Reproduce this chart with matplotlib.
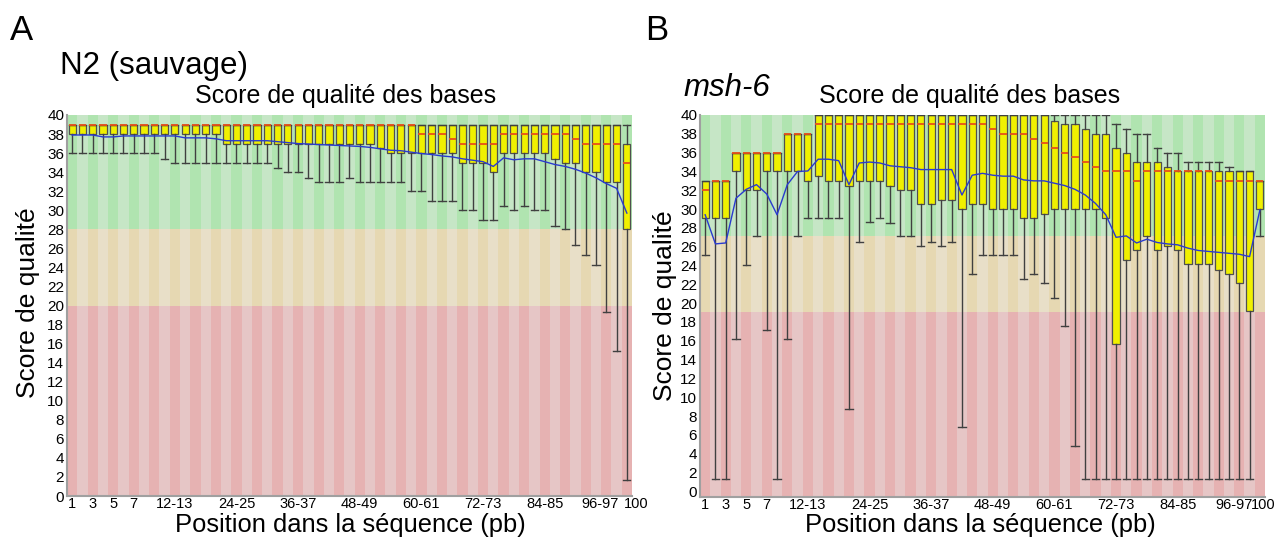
import matplotlib
matplotlib.use('Agg')
import matplotlib.pyplot as plt
from matplotlib.patches import Rectangle
from matplotlib.transforms import ScaledTranslation

plt.rcParams['font.family'] = ['Liberation Sans', 'DejaVu Sans']

# 55 position groups (1..9 then pairs, last = 100)
tick_idx = [0, 2, 4, 6, 10, 16, 22, 28, 34, 40, 46, 52, 54]
tick_labels = ['1', '3', '5', '7', '12-13', '24-25', '36-37', '48-49',
               '60-61', '72-73', '84-85', '96-97', '100']

# ---- panel A : N2 (sauvage) ----
a_low = [36]*9 + [35.4] + [35]*10 + [34.4, 34, 34, 33.4, 33, 33, 33, 33.4,
         33, 33, 33, 33, 33, 32, 32, 31, 31, 31, 30, 30, 29, 29, 30.4, 30,
         30.4, 30, 30, 28.3, 28, 26.4, 25.3, 24.3, 19.3, 15.2, 1.7]
a_q1 = [38]*15 + [37]*15 + [36.5] + [36]*7 + [35, 35, 35, 34] + \
       [36]*5 + [35.4, 35, 35, 34, 34, 33, 33, 28]
a_med = [39]*34 + [38, 38, 38, 37.5, 37, 37, 37, 37] + [38]*7 + \
        [37.5, 37, 37, 37, 37, 35]
a_q3 = [39]*54 + [37]
a_high = [39]*55
a_mean = [37.9, 37.9, 37.9, 37.7, 37.7, 37.8, 37.8, 37.8, 37.8, 37.8, 37.8,
          37.6, 37.6, 37.6, 37.5, 37.3, 37.3, 37.3, 37.3, 37.3, 37.2, 37.1,
          37.0, 36.95, 36.9, 36.85, 36.8, 36.75, 36.7, 36.6, 36.45, 36.3,
          36.25, 36.1, 35.95, 35.85, 35.7, 35.6, 35.4, 35.25, 35.1, 34.6,
          35.5, 35.3, 35.4, 35.4, 35.1, 34.8, 34.6, 34.3, 33.9, 33.4, 32.8,
          32.3, 29.7]

# ---- panel B : msh-6 ----
b_low = [25.1, 1.3, 1.3, 16.2, 24.1, 27.1, 17.2, 1.3, 16.2, 27.1, 29, 29, 29,
         29, 8.75, 26.5, 28.6, 29, 28.5, 27.1, 27.1, 26.1, 26.5, 26.1, 26.5,
         6.8, 23.1, 25.1, 25.1, 25.1, 25.1, 22.6, 23.1, 22.1, 20.6, 17.6,
         4.8] + [1.3]*17 + [27.1]
b_q1 = [29, 29, 29, 34, 32, 32, 34, 34, 34, 34, 33, 33.5, 33, 33, 32.5, 33,
        33, 33, 32.5, 32, 32, 30.5, 30.5, 31, 31, 30, 30.5, 30.5, 30, 30, 30,
        29, 29, 29.5, 30, 30, 30, 30, 30, 29, 15.7, 24.6, 25.6, 27.1, 25.6,
        26.1, 25.6, 24.15, 24.15, 24.15, 23.5, 23.1, 22.1, 19.2, 30]
b_med = [32, 33, 33, 36, 36, 36, 36, 36, 38, 38, 38] + [39]*17 + \
        [38.5, 38, 38, 38, 37.5, 37, 36.5, 36, 35.5, 35, 34.5, 34, 34, 34,
         33, 34, 34, 34, 34, 34, 34, 34, 33, 33, 33, 33, 33]
b_q3 = [33]*3 + [36]*5 + [38]*3 + [40]*23 + [39.4, 39, 39, 38.5, 38, 38,
        36.5, 36, 35, 35, 35, 34.5] + [34]*8 + [33]
b_high = [33]*3 + [36]*5 + [38]*3 + [40]*29 + [39, 38.5, 38, 38, 36.5, 36,
          36, 35, 35, 35, 35, 34.5, 34, 34, 33]
b_mean = [29.4, 26.3, 26.4, 31.15, 32.1, 32.6, 31.6, 29.4, 32.6, 34.0, 34.05,
          35.3, 35.3, 35.15, 32.6, 34.9, 35.0, 34.9, 34.6, 34.5, 34.4, 34.2,
          34.2, 34.2, 34.2, 31.5, 33.6, 33.8, 33.6, 33.5, 33.5, 33.1, 33.0,
          33.0, 32.75, 32.5, 32.1, 31.5, 30.6, 29.4, 27.0, 27.15, 26.4, 26.8,
          26.45, 26.3, 26.2, 25.85, 25.6, 25.5, 25.4, 25.3, 25.2, 24.95, 29.9]

good = ('#b0e4b0', '#c6e6c6')
bad = ('#e6d8b2', '#e8dfc8')
ugly = ('#e6b2b2', '#e6c6c6')


def panel(ax, low, q1, med, q3, high, mean, bands, ybottom, last_shift):
    n = len(med)
    # striped background
    for i in range(n):
        k = i % 2
        ax.add_patch(Rectangle((i - 0.5, bands[0]), 1, 40 - bands[0],
                               color=good[k], lw=0, zorder=0))
        ax.add_patch(Rectangle((i - 0.5, bands[1]), 1, bands[0] - bands[1],
                               color=bad[k], lw=0, zorder=0))
        ax.add_patch(Rectangle((i - 0.5, ybottom), 1, bands[1] - ybottom,
                               color=ugly[k], lw=0, zorder=0))
    stats = [dict(whislo=low[i], q1=q1[i], med=med[i], q3=q3[i],
                  whishi=high[i], fliers=[]) for i in range(n)]
    ax.bxp(stats, positions=range(n), widths=0.7, capwidths=0.7,
           patch_artist=True, showfliers=False,
           boxprops=dict(facecolor='#f0f000', edgecolor='#505050', lw=0.9),
           medianprops=dict(color='#e8501a', lw=1.3),
           whiskerprops=dict(color='#404040', lw=1),
           capprops=dict(color='#404040', lw=1))
    ax.plot(range(n), mean, color='#2a3ad0', lw=1, zorder=5)
    ax.set_xlim(-0.5, n - 0.5)
    ax.set_ylim(ybottom, 40)
    ax.set_yticks(range(0, 41, 2))
    ax.set_xticks(tick_idx)
    ax.set_xticklabels(tick_labels)
    ax.tick_params(length=0, pad=2)
    ax.tick_params(axis='y', labelsize=11)
    ax.tick_params(axis='x', labelsize=10.5, pad=1)
    # the last two labels sit a little apart in the original
    labs = ax.get_xticklabels()
    for lab, dx in zip(labs[-2:], last_shift):
        lab.set_transform(lab.get_transform() +
                          ScaledTranslation(dx / 100, 0, fig.dpi_scale_trans))
    for s in ['top', 'right']:
        ax.spines[s].set_visible(False)
    for s in ['left', 'bottom']:
        ax.spines[s].set_color('#a0a0a0')
        ax.spines[s].set_linewidth(1.5)


fig = plt.figure(figsize=(12.87, 5.41), dpi=100)
W, H = 1287, 541
axA = fig.add_axes([67 / W, 1 - 496 / H, 565 / W, 381 / H])
axB = fig.add_axes([700 / W, 1 - 497 / H, 565 / W, 382 / H])

panel(axA, a_low, a_q1, a_med, a_q3, a_high, a_mean, (28, 20), 0, (-6, 9))
panel(axB, b_low, b_q1, b_med, b_q3, b_high, b_mean, (27.1, 19.1), -0.6,
      (-5, 3))

fig.text(10 / W, 1 - 30 / H, 'A', fontsize=25, va='center')
fig.text(645 / W, 1 - 30 / H, 'B', fontsize=25, va='center')
fig.text(60 / W, 1 - 66 / H, 'N2 (sauvage)', fontsize=22.5, va='center')
fig.text(683 / W, 1 - 88 / H, 'msh-6', fontsize=22.5, style='italic',
         va='center')

for cx in (346, 970):
    fig.text(cx / W, 1 - 96 / H, 'Score de qualité des bases', fontsize=18,
             ha='center', va='center')
for cx in (350, 980):
    fig.text(cx / W, 1 - 525 / H, 'Position dans la séquence (pb)',
             fontsize=18.4, ha='center', va='center')
fig.text(28 / W, 1 - 303 / H, 'Score de qualité', fontsize=19, rotation=90,
         ha='center', va='center')
fig.text(665 / W, 1 - 306 / H, 'Score de qualité', fontsize=19, rotation=90,
         ha='center', va='center')

fig.savefig('out.png', dpi=100)
